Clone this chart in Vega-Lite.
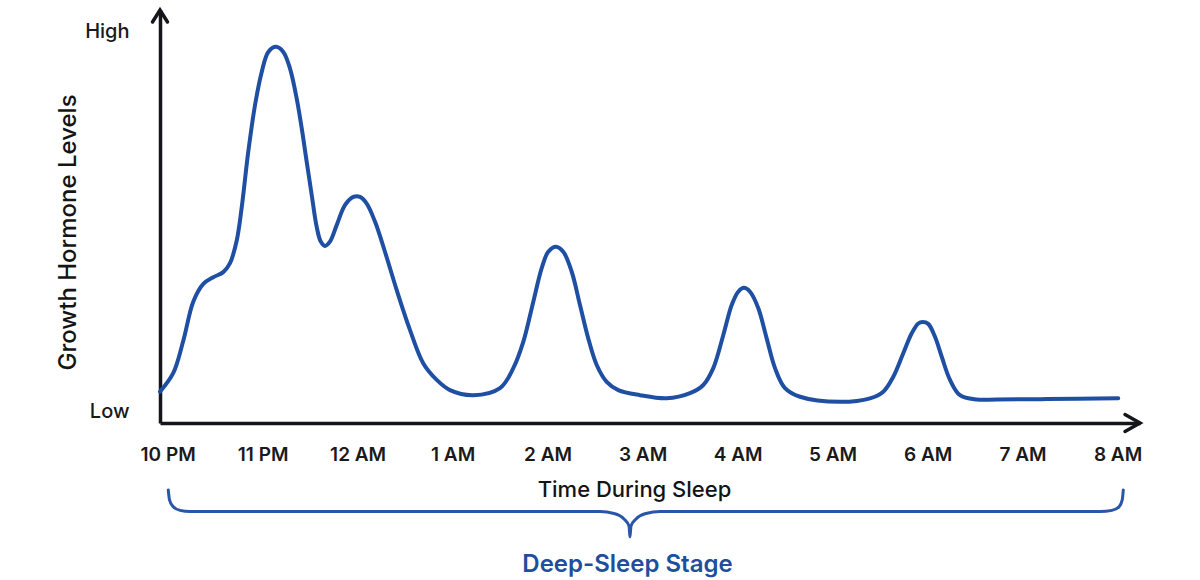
{
  "$schema": "https://vega.github.io/schema/vega-lite/v6.json",
  "autosize": {"type": "none"},
  "width": 980,
  "height": 413,
  "padding": {"left": 160, "top": 10, "right": 60, "bottom": 157},
  "background": "#ffffff",
  "config": {"view": {"stroke": null}, "font": "Inter"},
  "datasets": {
    "curve": [
      {"hour": -0.08, "level": 8.0}, {"hour": 0.06, "level": 12.8}, {"hour": 0.165, "level": 21.0},
      {"hour": 0.271, "level": 31.0}, {"hour": 0.376, "level": 35.5}, {"hour": 0.481, "level": 37.2},
      {"hour": 0.586, "level": 38.5}, {"hour": 0.657, "level": 40.8}, {"hour": 0.727, "level": 46.5},
      {"hour": 0.78, "level": 55.0}, {"hour": 0.849, "level": 69.2}, {"hour": 0.92, "level": 81.1},
      {"hour": 0.991, "level": 89.6}, {"hour": 1.06, "level": 94.7}, {"hour": 1.141, "level": 96.0},
      {"hour": 1.218, "level": 94.7}, {"hour": 1.288, "level": 90.5}, {"hour": 1.359, "level": 82.8},
      {"hour": 1.412, "level": 75.2}, {"hour": 1.464, "level": 66.7}, {"hour": 1.517, "level": 58.2},
      {"hour": 1.569, "level": 50.1}, {"hour": 1.612, "level": 46.3}, {"hour": 1.657, "level": 45.2},
      {"hour": 1.709, "level": 46.3}, {"hour": 1.78, "level": 50.5}, {"hour": 1.867, "level": 55.6},
      {"hour": 1.955, "level": 57.7}, {"hour": 2.025, "level": 57.7}, {"hour": 2.096, "level": 56.0},
      {"hour": 2.183, "level": 51.4}, {"hour": 2.288, "level": 43.7}, {"hour": 2.412, "level": 33.9},
      {"hour": 2.552, "level": 23.7}, {"hour": 2.692, "level": 15.2}, {"hour": 2.833, "level": 11.0},
      {"hour": 2.973, "level": 8.4}, {"hour": 3.218, "level": 7.1}, {"hour": 3.499, "level": 8.9},
      {"hour": 3.639, "level": 14.0}, {"hour": 3.744, "level": 20.7}, {"hour": 3.849, "level": 30.9},
      {"hour": 3.938, "level": 39.5}, {"hour": 4.007, "level": 43.7}, {"hour": 4.088, "level": 45.0},
      {"hour": 4.165, "level": 43.7}, {"hour": 4.254, "level": 38.6}, {"hour": 4.341, "level": 30.1},
      {"hour": 4.428, "level": 21.6}, {"hour": 4.517, "level": 14.8}, {"hour": 4.622, "level": 10.5},
      {"hour": 4.744, "level": 8.4}, {"hour": 4.973, "level": 7.1}, {"hour": 5.254, "level": 6.3},
      {"hour": 5.499, "level": 7.6}, {"hour": 5.639, "level": 9.7}, {"hour": 5.744, "level": 14.0},
      {"hour": 5.849, "level": 22.4}, {"hour": 5.938, "level": 30.1}, {"hour": 6.007, "level": 33.5},
      {"hour": 6.067, "level": 34.5}, {"hour": 6.131, "level": 33.5}, {"hour": 6.218, "level": 29.3},
      {"hour": 6.306, "level": 21.6}, {"hour": 6.394, "level": 14.0}, {"hour": 6.499, "level": 8.9},
      {"hour": 6.657, "level": 6.7}, {"hour": 7.078, "level": 5.4}, {"hour": 7.394, "level": 6.3},
      {"hour": 7.534, "level": 8.0}, {"hour": 7.639, "level": 11.8}, {"hour": 7.744, "level": 17.8},
      {"hour": 7.833, "level": 22.9}, {"hour": 7.902, "level": 25.4}, {"hour": 7.948, "level": 25.8},
      {"hour": 8.007, "level": 25.3}, {"hour": 8.078, "level": 22.0}, {"hour": 8.149, "level": 16.9},
      {"hour": 8.236, "level": 11.0}, {"hour": 8.341, "level": 7.1}, {"hour": 8.517, "level": 6.0},
      {"hour": 8.727, "level": 6.0}, {"hour": 9.254, "level": 6.1}, {"hour": 10.007, "level": 6.3}
    ],
    "brace": [
      {"hour": 0.007, "level": -17.1}, {"hour": 0.02, "level": -19.6}, {"hour": 0.057, "level": -21.3},
      {"hour": 0.131, "level": -22.3}, {"hour": 0.236, "level": -22.6}, {"hour": 4.552, "level": -22.6},
      {"hour": 4.699, "level": -23.1}, {"hour": 4.804, "level": -24.5}, {"hour": 4.857, "level": -26.3},
      {"hour": 4.867, "level": -29.1}, {"hour": 4.878, "level": -26.3}, {"hour": 4.931, "level": -24.5},
      {"hour": 5.036, "level": -23.1}, {"hour": 5.183, "level": -22.6}, {"hour": 9.815, "level": -22.6},
      {"hour": 9.941, "level": -22.3}, {"hour": 10.015, "level": -21.4}, {"hour": 10.049, "level": -19.6},
      {"hour": 10.06, "level": -17.1}
    ],
    "arrows": [
      {"hour": -0.08, "level": 105.4, "dir": "up"},
      {"hour": 10.236, "level": 0, "dir": "right"}
    ],
    "labels": [
      {"hour": 4.841, "level": -37.9, "label": "Deep-Sleep Stage"}
    ]
  },
  "encoding": {
    "x": {
      "field": "hour", "type": "quantitative",
      "scale": {"domain": [-0.08, 10.236], "nice": false, "zero": false},
      "axis": {
        "values": [0, 1, 2, 3, 4, 5, 6, 7, 8, 9, 10],
        "labelExpr": "((datum.value + 9) % 12 + 1) + (datum.value < 2 ? ' PM' : ' AM')",
        "grid": false, "ticks": false,
        "domainColor": "#14161b", "domainWidth": 3.5,
        "labelFont": "Inter", "labelFontSize": 19, "labelFontWeight": 600, "labelColor": "#1a1a1a",
        "labelPadding": 22, "labelBaseline": "top", "labelFlush": false, "labelOverlap": false,
        "title": "Time During Sleep",
        "titleFont": "Inter", "titleFontSize": 22, "titleFontWeight": 500, "titleColor": "#141414",
        "titleX": 474, "titleY": 73, "titleBaseline": "alphabetic", "titleAlign": "center"
      }
    },
    "y": {
      "field": "level", "type": "quantitative",
      "scale": {"domain": [0, 105.4], "nice": false, "zero": false},
      "axis": {
        "values": [3, 100],
        "labelExpr": "datum.value == 100 ? 'High' : 'Low'",
        "grid": false, "ticks": false,
        "domainColor": "#14161b", "domainWidth": 3.5,
        "labelFont": "Inter", "labelFontSize": 20, "labelFontWeight": 500, "labelColor": "#1a1a1a",
        "labelPadding": 31, "labelAlign": "right", "labelBaseline": "middle", "labelFlush": false,
        "title": "Growth Hormone Levels",
        "titleFont": "Inter", "titleFontSize": 24, "titleFontWeight": 500, "titleColor": "#141414",
        "titleAngle": -90, "titleX": -85, "titleY": 222, "titleBaseline": "alphabetic", "titleAlign": "center"
      }
    }
  },
  "layer": [
    {
      "data": {"name": "curve"},
      "mark": {"type": "line", "interpolate": "catmull-rom", "color": "#1f4fa3", "strokeWidth": 4, "strokeCap": "round", "strokeJoin": "round", "clip": false}
    },
    {
      "data": {"name": "brace"},
      "mark": {"type": "line", "interpolate": "monotone", "color": "#2a56a8", "strokeWidth": 3, "strokeCap": "round", "clip": false}
    },
    {
      "data": {"name": "arrows"},
      "mark": {"type": "point", "filled": false, "stroke": "#14161b", "strokeWidth": 3.5, "strokeJoin": "miter", "strokeCap": "round", "size": 225, "opacity": 1, "clip": false},
      "encoding": {
        "shape": {
          "field": "dir", "type": "nominal", "legend": null,
          "scale": {"domain": ["up", "right"], "range": ["M-1,1.6L0,0L1,1.6", "M-2,-1.13L0,0L-2,1.13"]}
        }
      }
    },
    {
      "data": {"name": "labels"},
      "mark": {"type": "text", "font": "Inter", "fontSize": 24, "fontWeight": 600, "color": "#1f4e9c", "align": "center", "baseline": "alphabetic", "clip": false},
      "encoding": {"text": {"field": "label"}}
    }
  ]
}
